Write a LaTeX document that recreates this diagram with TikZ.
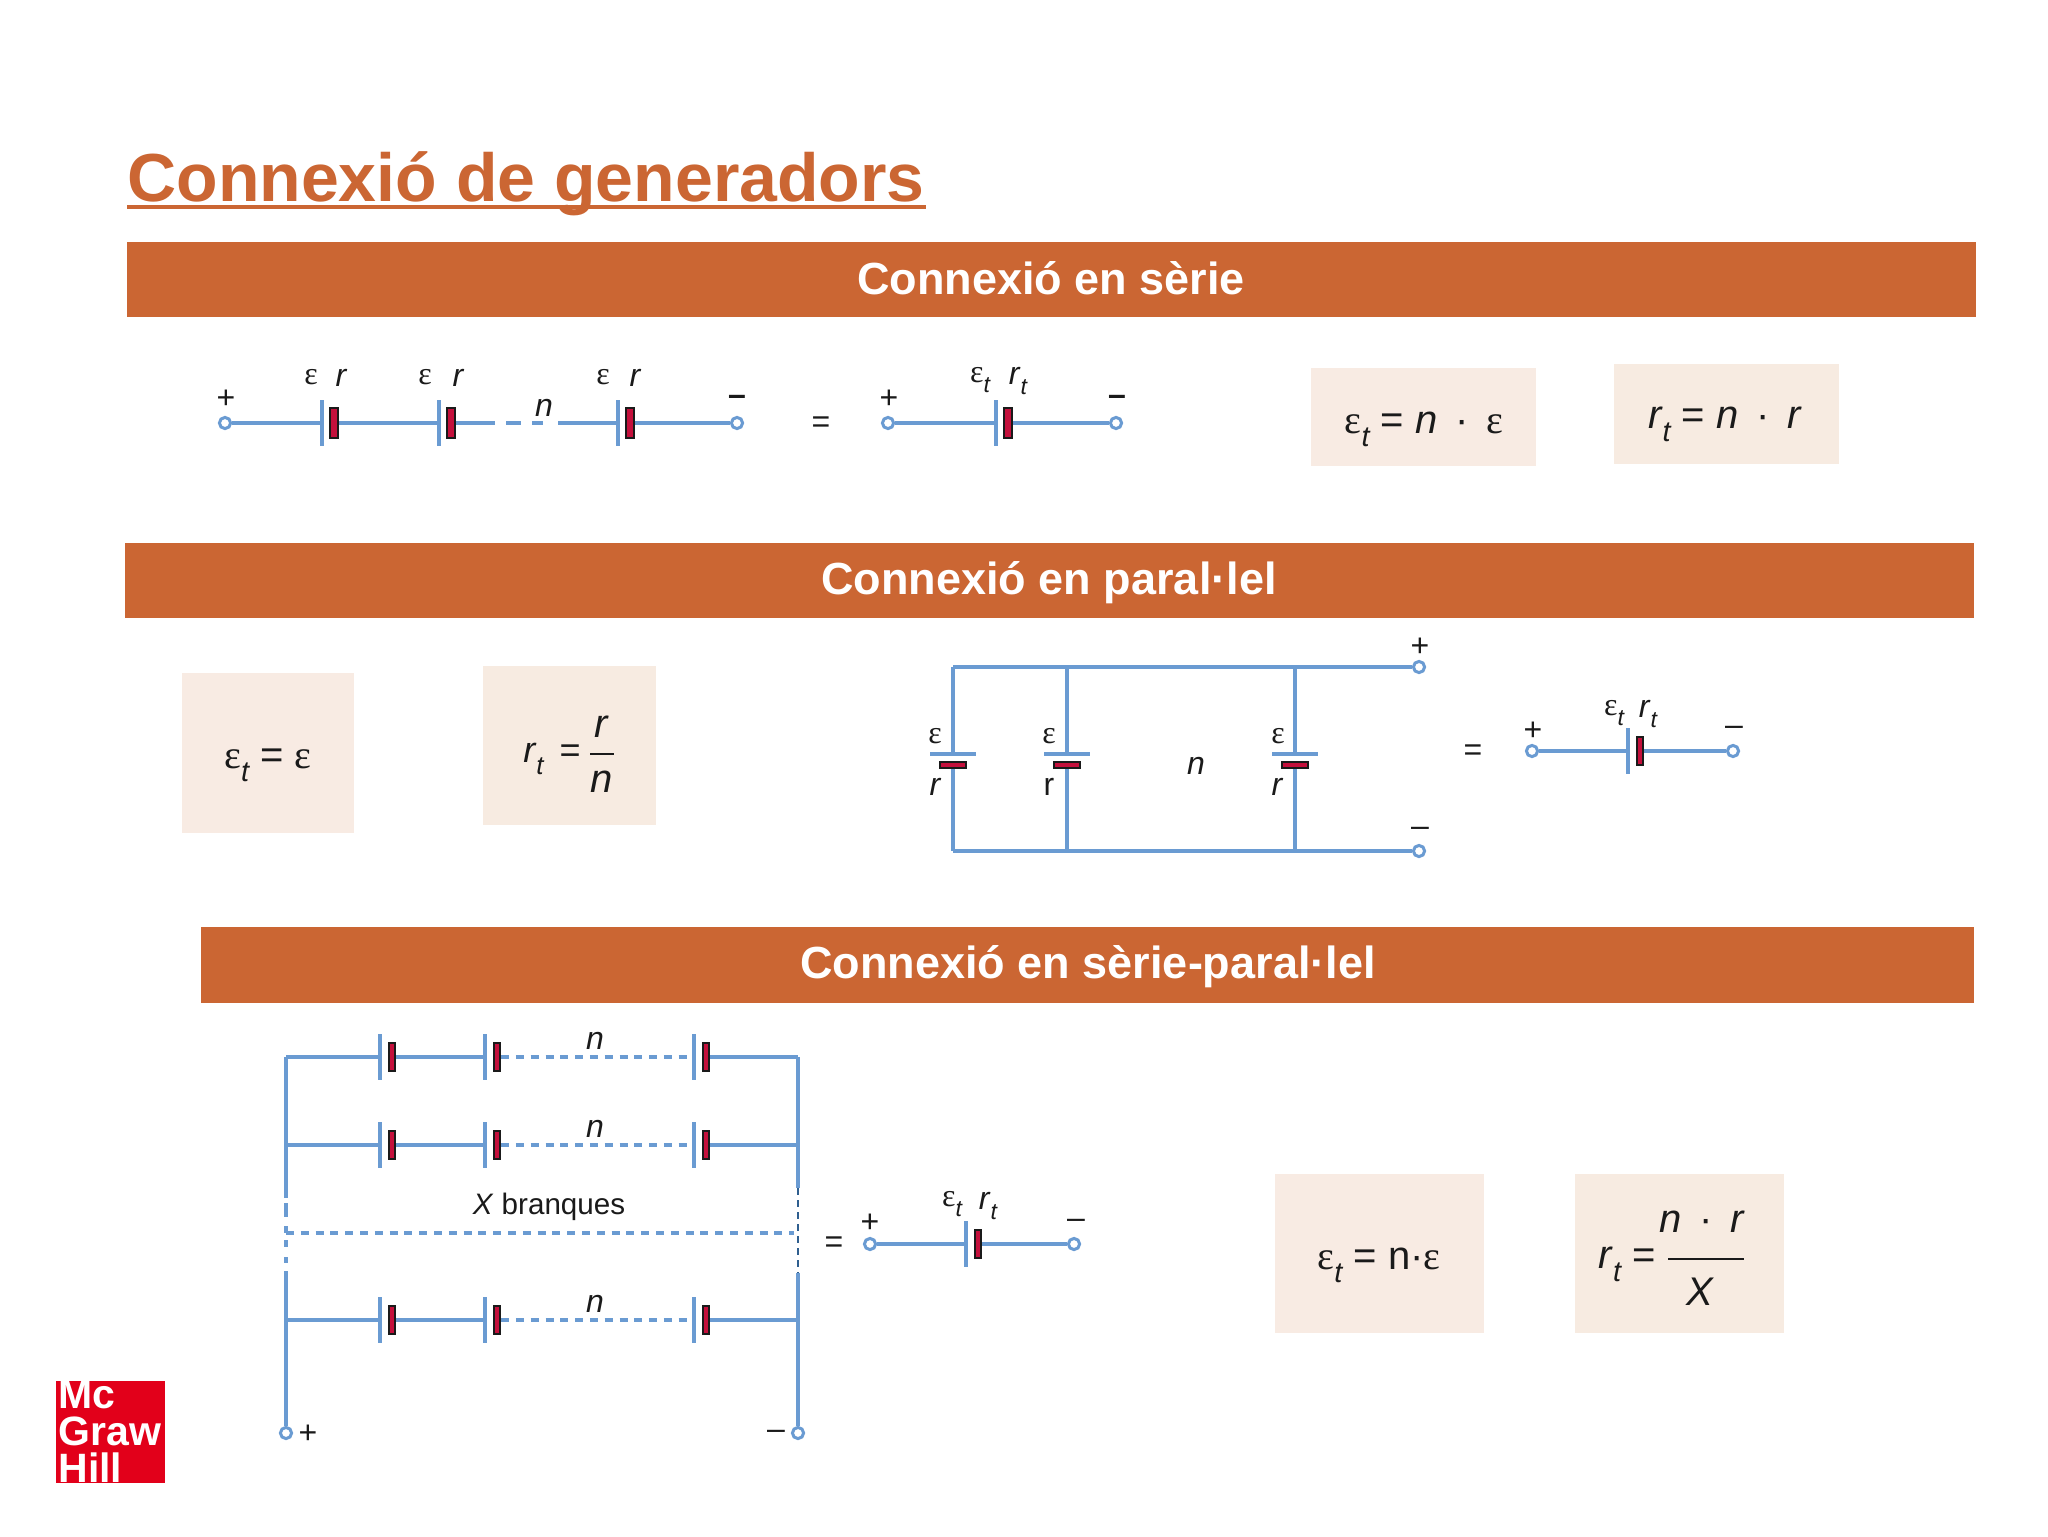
\documentclass[tikz,border=0pt]{standalone}
\usepackage{fontspec}
\setmainfont{Liberation Sans}
\newfontfamily\serifeps{Liberation Serif}
\definecolor{barC}{HTML}{CB6633}
\definecolor{boxA}{HTML}{F8EBE3}
\definecolor{boxB}{HTML}{F7EBE1}
\definecolor{wireC}{HTML}{6A9BD2}
\definecolor{railC}{HTML}{2F5F8F}
\definecolor{negC}{HTML}{C4103C}
\definecolor{logoC}{HTML}{E2001A}
\definecolor{inkC}{HTML}{1A1A1A}
\newcommand{\eps}{{\serifeps\char"03B5}}
\newcommand{\subt}{\raisebox{-.32em}{\fontsize{.72em}{1em}\selectfont\itshape t}}
\newcommand{\et}{\eps\subt}
\newcommand{\rt}{\textit{r}\subt}
\tikzset{
  x=0.5pt,y=-0.5pt,
  wire/.style={draw=wireC,line width=2.2pt},
  dash wire/.style={draw=wireC,line width=2.2pt,dash pattern=on 4pt off 3.4pt},
  rail/.style={draw=wireC,line width=1.8pt},
  dark rail/.style={draw=railC,line width=1pt,dash pattern=on 3.5pt off 2.5pt},
  termnode/.style={circle,draw=wireC,fill=white,line width=1.5pt,minimum size=5.6pt,inner sep=0pt},
  hplate/.style={rectangle,fill=wireC,inner sep=0pt,minimum width=1.8pt,minimum height=23pt},
  vplate/.style={rectangle,fill=wireC,inner sep=0pt,minimum height=2pt,minimum width=23pt},
  hneg/.style={rectangle,draw=inkC,fill=negC,line width=.9pt,inner sep=0pt,minimum width=3.2pt,minimum height=14pt},
  vneg/.style={rectangle,draw=inkC,fill=negC,line width=1pt,inner sep=0pt,minimum width=13pt,minimum height=2.8pt},
  headtxt/.style={inner sep=0pt,text=white,font=\bfseries\fontsize{22.5}{26}\selectfont},
  lab/.style={inner sep=0pt,text=inkC,font=\fontsize{16}{18}\selectfont},
  ilab/.style={lab,font=\itshape\fontsize{16}{18}\selectfont},
  eqn/.style={inner sep=0pt,text=inkC,font=\fontsize{20}{24}\selectfont},
  logotxt/.style={inner sep=0pt,anchor=base west,text=white,font=\bfseries\fontsize{20.5}{22}\selectfont},
}
\newcommand{\hcell}[4][]{%
  \node[hplate] (#2p) at (#3,#4) {};
  \node[hneg,#1] (#2n) at (#3+12,#4) {};}
\newcommand{\vcell}[3]{%
  \node[vplate] (#1p) at (#2,#3) {};
  \node[vneg] (#1n) at (#2,#3+11) {};}
\newcommand{\sprow}[2]{%
  \hcell{#1a}{380}{#2}
  \hcell{#1b}{485}{#2}
  \hcell{#1c}{694}{#2}
  \coordinate (#1L) at (286,#2);
  \coordinate (#1R) at (798,#2);
  \coordinate (#1d) at (687,#2);
  \draw[wire] (#1L) -- (#1ap.west);
  \draw[wire] (#1an.east) -- (#1bp.west);
  \draw[dash wire] (#1bn.east) -- (#1d);
  \draw[wire] (#1cn.east) -- (#1R);
  \node[ilab] (#1lab) at (595,#2-16) {n};}
\begin{document}
\begin{tikzpicture}
\useasboundingbox (0,0) rectangle (2048,1536);
\fill[white] (0,0) rectangle (2048,1536);
% title
\node[inner sep=0pt,anchor=base west,text=barC,font=\bfseries\fontsize{34}{40}\selectfont] (title) at (127,201) {Connexió de generadors};
\draw[barC,line width=1.6pt] (127,207) -- (926,207);
% bars
\path[fill=barC] (127,242) rectangle (1976,317);
\node[headtxt] (h1) at (1051,278) {Connexió en sèrie};
\path[fill=barC] (125,543) rectangle (1974,618);
\node[headtxt] (h2) at (1049,583) {Connexió en paral·lel};
\path[fill=barC] (201,927) rectangle (1974,1003);
\node[headtxt] (h3) at (1088,967) {Connexió en sèrie-paral·lel};
% formula boxes
\path[fill=boxA] (1311,368) rectangle (1536,466);
\path[fill=boxB] (1614,364) rectangle (1839,464);
\path[fill=boxA] (182,673) rectangle (354,833);
\path[fill=boxB] (483,666) rectangle (656,825);
\path[fill=boxA] (1275,1174) rectangle (1484,1333);
\path[fill=boxB] (1575,1174) rectangle (1784,1333);
\node[eqn] (f1) at (1424,429) {\et{} = \textit{n} \,·\, \eps};
\node[eqn] (f2) at (1725,424) {\rt{} = \textit{n} \,·\, \textit{r}};
\node[eqn] (f3) at (268,765) {\et{} = \eps};
\node[eqn,font=\fontsize{18}{22}\selectfont] (f4) at (552,759) {\rt{} \,=};
\node[eqn] (f4a) at (602,727) {\textit{r}};
\node[eqn] (f4b) at (602,782) {\textit{n}};
\coordinate (f4l) at (590,754); \coordinate (f4r) at (614,754);
\draw[inkC,line width=.7pt] (f4l) -- (f4r);
\node[eqn] (f5) at (1379,1265) {\et{} = n·\eps};
\node[eqn] (f6) at (1627,1264) {\rt{} =};
\node[eqn] (f6a) at (1702,1222) {\textit{n} \,·\, \textit{r}};
\node[eqn] (f6b) at (1700,1292) {\textit{X}};
\coordinate (f6l) at (1668,1259); \coordinate (f6r) at (1744,1259);
\draw[inkC,line width=.7pt] (f6l) -- (f6r);
% series row
\node[termnode] (sA) at (225,423) {};
\node[termnode] (sB) at (737,423) {};
\hcell[minimum width=4pt,minimum height=15pt]{s1}{322}{423}
\hcell[minimum width=4pt,minimum height=15pt]{s2}{439}{423}
\hcell[minimum width=4pt,minimum height=15pt]{s3}{618}{423}
\coordinate (sd1) at (495,423); \coordinate (sd2) at (506,423);
\coordinate (sd3) at (521,423); \coordinate (sd4) at (532,423);
\coordinate (sd5) at (543,423); \coordinate (sd6) at (558,423);
\draw[wire] (sA) -- (s1p.west);
\draw[wire] (s1n.east) -- (s2p.west);
\draw[wire] (s2n.east) -- (sd1);
\draw[wire] (sd2) -- (sd3);
\draw[wire] (sd4) -- (sd5);
\draw[wire] (sd6) -- (s3p.west);
\draw[wire] (s3n.east) -- (sB);
\node[lab] (sl1) at (311,377) {\eps}; \node[ilab] (sl2) at (341,378) {r};
\node[lab] (sl3) at (425,377) {\eps}; \node[ilab] (sl4) at (458,378) {r};
\node[lab] (sl5) at (603,377) {\eps}; \node[ilab] (sl6) at (635,378) {r};
\node[ilab] (sl7) at (544,408) {n};
\node[lab] (sl8) at (226,399) {+};
\node[lab] (sl9) at (737,400) {\textbf{–}};
\node[lab] (sl10) at (821,425) {=};
% series equivalent
\node[termnode] (eA) at (888,423) {};
\node[termnode] (eB) at (1116,423) {};
\hcell[minimum width=4pt,minimum height=15pt]{e1}{996}{423}
\draw[wire] (eA) -- (e1p.west);
\draw[wire] (e1n.east) -- (eB);
\node[lab] (el1) at (980,380) {\et}; \node[lab] (el2) at (1018,381) {\rt};
\node[lab] (el3) at (889,399) {+};
\node[lab] (el4) at (1117,400) {\textbf{–}};
% parallel
\node[termnode] (pA) at (1419,667) {};
\node[termnode] (pB) at (1419,851) {};
\coordinate (pTL) at (953,667); \coordinate (pBL) at (953,851);
\coordinate (pT2) at (1067,667); \coordinate (pB2) at (1067,851);
\coordinate (pT3) at (1295,667); \coordinate (pB3) at (1295,851);
\vcell{p1}{953}{754}
\vcell{p2}{1067}{754}
\vcell{p3}{1295}{754}
\draw[wire] (pTL) -- (pA);
\draw[wire] (pBL) -- (pB);
\draw[rail] (pTL) -- (p1p.north); \draw[rail] (p1n.south) -- (pBL);
\draw[rail] (pT2) -- (p2p.north); \draw[rail] (p2n.south) -- (pB2);
\draw[rail] (pT3) -- (p3p.north); \draw[rail] (p3n.south) -- (pB3);
\node[lab] (pl1) at (935,736) {\eps}; \node[ilab] (pl2) at (935,787) {r};
\node[lab] (pl3) at (1049,736) {\eps}; \node[lab] (pl4) at (1049,787) {r};
\node[lab] (pl5) at (1278,736) {\eps}; \node[ilab] (pl6) at (1277,787) {r};
\node[ilab] (pl7) at (1196,766) {n};
\node[lab] (pl8) at (1420,647) {+};
\node[lab] (pl9) at (1420,832) {–};
\node[lab] (pl10) at (1473,753) {=};
% parallel equivalent
\node[termnode] (qA) at (1532,751) {};
\node[termnode] (qB) at (1733,751) {};
\hcell{q1}{1628}{751}
\draw[wire] (qA) -- (q1p.west);
\draw[wire] (q1n.east) -- (qB);
\node[lab] (ql1) at (1614,713) {\et}; \node[lab] (ql2) at (1648,714) {\rt};
\node[lab] (ql3) at (1533,731) {+};
\node[lab] (ql4) at (1734,731) {–};
% series-parallel
\node[termnode] (tA) at (286,1433) {};
\node[termnode] (tB) at (798,1433) {};
\coordinate (t1) at (286,1057); \coordinate (t2) at (286,1198);
\coordinate (t3) at (286,1203); \coordinate (t4) at (286,1217);
\coordinate (t5) at (286,1226); \coordinate (t6) at (286,1233);
\coordinate (t7) at (286,1240); \coordinate (t8) at (286,1247);
\coordinate (t9) at (286,1257); \coordinate (t10) at (286,1263);
\coordinate (t11) at (286,1271);
\coordinate (u1) at (798,1057); \coordinate (u2) at (798,1188);
\coordinate (u3) at (798,1273);
\sprow{ra}{1057}
\sprow{rb}{1145}
\sprow{rc}{1320}
\coordinate (rdL) at (286,1233); \coordinate (rdR) at (794,1233);
\draw[dash wire] (rdL) -- (rdR);
\draw[rail] (t1) -- (t2);
\draw[rail] (t3) -- (t4);
\draw[rail] (t5) -- (t6);
\draw[rail] (t7) -- (t8);
\draw[rail] (t9) -- (t10);
\draw[rail] (t11) -- (tA);
\draw[rail] (u1) -- (u2);
\draw[dark rail] (u2) -- (u3);
\draw[rail] (u3) -- (tB);
\node[inner sep=0pt,text=inkC,font=\fontsize{14.8}{16}\selectfont] (xb) at (549,1207) {\textit{X} branques};
\node[lab] (tl1) at (308,1434) {+};
\node[lab] (tl2) at (776,1435) {–};
\node[lab] (tl3) at (834,1245) {=};
% series-parallel equivalent
\node[termnode] (vA) at (870,1244) {};
\node[termnode] (vB) at (1074,1244) {};
\hcell{v1}{966}{1244}
\draw[wire] (vA) -- (v1p.west);
\draw[wire] (v1n.east) -- (vB);
\node[lab] (vl1) at (952,1204) {\et}; \node[lab] (vl2) at (988,1206) {\rt};
\node[lab] (vl3) at (870,1223) {+};
\node[lab] (vl4) at (1076,1224) {–};
% logo
\path[fill=logoC] (56,1381) rectangle (165,1483);
\node[logotxt] (lg1) at (58,1408) {Mc};
\node[logotxt] (lg2) at (58,1445) {Graw};
\node[logotxt] (lg3) at (58,1482) {Hill};
\end{tikzpicture}
\end{document}
